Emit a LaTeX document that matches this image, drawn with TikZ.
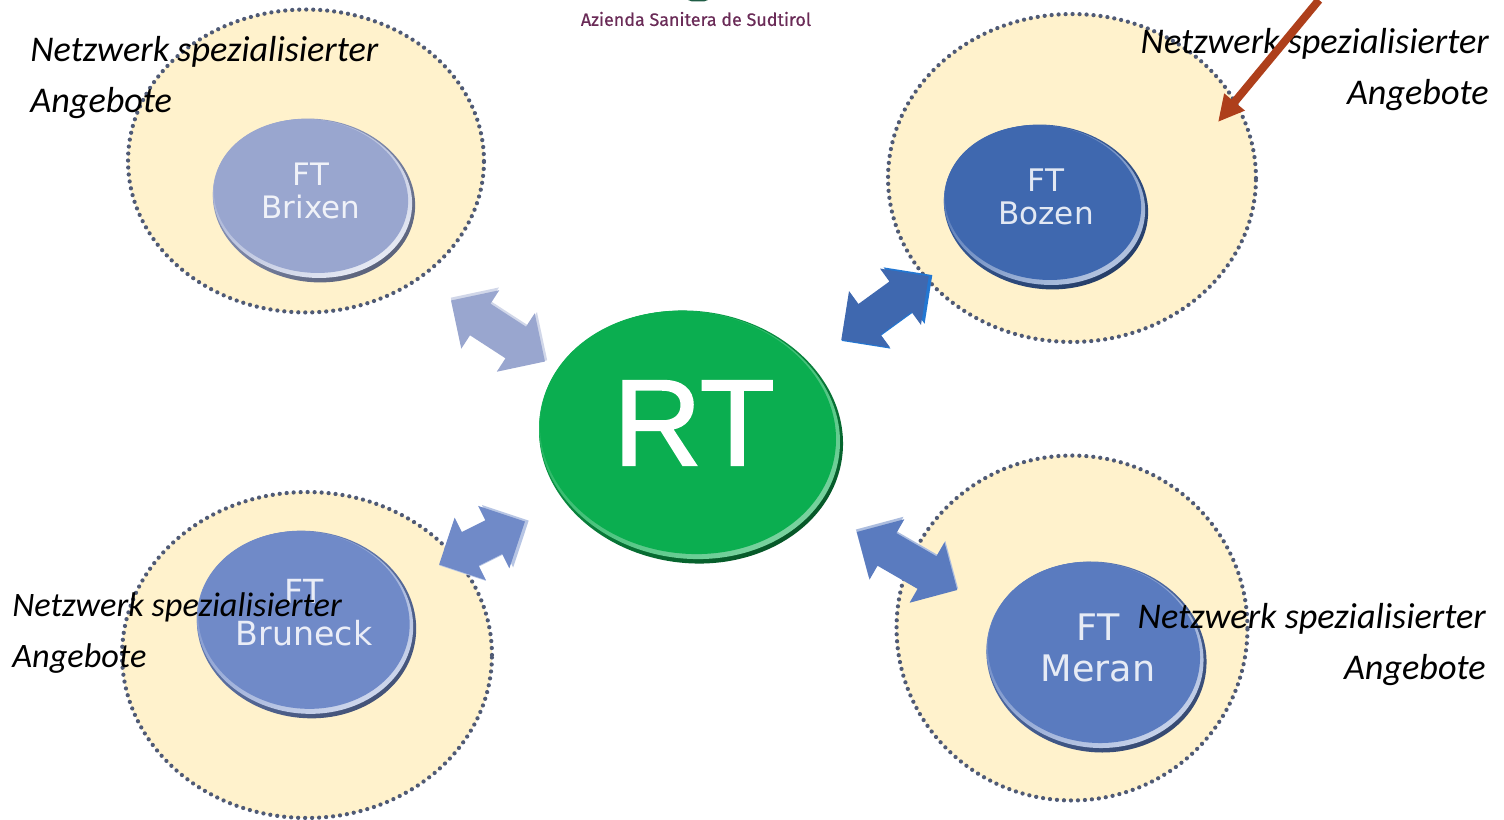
\documentclass[tikz,border=0pt]{standalone}
\usepackage{fontspec}
\setmainfont{Carlito}
\newfontfamily\btnfont{DejaVu Sans}
\newfontfamily\rtfont[FakeBold=1.4]{Liberation Sans}
\newfontfamily\logofont[FakeBold=0.4]{Fira Sans}
\usetikzlibrary{shapes.geometric,shapes.arrows,arrows.meta}
\definecolor{ringfill}{HTML}{FFF2CC}
\definecolor{ringdot}{HTML}{4F5A75}
\definecolor{redarrow}{HTML}{AE3F1B}
\definecolor{logotext}{HTML}{6A2B57}
\definecolor{logogreen}{HTML}{1F5C45}
\definecolor{brixen}{HTML}{99A6CF}
\definecolor{bozen}{HTML}{3F68AF}
\definecolor{bruneck}{HTML}{708AC8}
\definecolor{meran}{HTML}{5A7BBF}
\definecolor{rtgreen}{HTML}{0BAE50}
\tikzstyle{ring} = [ellipse, draw=ringdot, fill=ringfill, inner sep=0pt,
    line width=0.085cm, line cap=round, dash pattern=on 0pt off 0.14cm]
\tikzstyle{disc} = [ellipse, inner sep=0pt]
\tikzstyle{btnlabel} = [inner sep=0pt, align=center]
\tikzstyle{fatarrow} = [double arrow, inner xsep=0pt, inner ysep=0.37cm,
    double arrow head extend=0.32cm]
\tikzstyle{netztext} = [inner sep=0pt, font=\fontsize{20.6}{29}\selectfont\itshape, text=black]

\begin{document}
\begin{tikzpicture}[x=0.02cm, y=-0.02cm]
    \useasboundingbox (0,0) rectangle (1504,820);
    \fill[white] (0,0) rectangle (1504,820);
    % rings
    \node [ring, minimum width=7.12cm, minimum height=6.06cm] (ringBrixen) at (306,161) {};
    \node [ring, minimum width=7.36cm, minimum height=6.56cm] (ringBozen) at (1072,178) {};
    \node [ring, minimum width=7.40cm, minimum height=6.52cm] (ringBruneck) at (307,655) {};
    \node [ring, minimum width=7.02cm, minimum height=6.90cm] (ringMeran) at (1072,628) {};
    % discs
    \node [disc, top color=brixen, middle color=brixen, bottom color=brixen!60!black, shading angle=35, rotate=-8, minimum width=4.06cm, minimum height=3.26cm] (rimBrixen) at (314,200.5) {};
    \node [disc, top color=brixen, middle color=brixen, bottom color=white!75!brixen, shading angle=35, rotate=-8, minimum width=4.00cm, minimum height=3.16cm] (glowBrixen) at (312.5,198.5) {};
    \node [disc, fill=brixen, rotate=-8, minimum width=3.90cm, minimum height=3.06cm] (discBrixen) at (311,196) {};
    \node [disc, top color=bozen, middle color=bozen, bottom color=bozen!60!black, shading angle=35, rotate=-8, minimum width=4.10cm, minimum height=3.28cm] (rimBozen) at (1046,207) {};
    \node [disc, top color=bozen, middle color=bozen, bottom color=white!60!bozen, shading angle=35, rotate=-8, minimum width=4.04cm, minimum height=3.18cm] (glowBozen) at (1044.5,205) {};
    \node [disc, fill=bozen, rotate=-8, minimum width=3.94cm, minimum height=3.08cm] (discBozen) at (1043,202.5) {};
    \node [disc, top color=bruneck, middle color=bruneck, bottom color=bruneck!60!black, shading angle=35, rotate=-8, minimum width=4.40cm, minimum height=3.74cm] (rimBruneck) at (306.5,624.5) {};
    \node [disc, top color=bruneck, middle color=bruneck, bottom color=white!65!bruneck, shading angle=35, rotate=-8, minimum width=4.34cm, minimum height=3.64cm] (glowBruneck) at (305,622.5) {};
    \node [disc, fill=bruneck, rotate=-8, minimum width=4.24cm, minimum height=3.54cm] (discBruneck) at (304,620) {};
    \node [disc, top color=meran, middle color=meran, bottom color=meran!60!black, shading angle=35, rotate=-10, minimum width=4.42cm, minimum height=3.80cm] (rimMeran) at (1096.5,657) {};
    \node [disc, top color=meran, middle color=meran, bottom color=white!65!meran, shading angle=35, rotate=-10, minimum width=4.36cm, minimum height=3.70cm] (glowMeran) at (1095,655) {};
    \node [disc, fill=meran, rotate=-10, minimum width=4.26cm, minimum height=3.60cm] (discMeran) at (1094,652.5) {};
    \node [disc, top color=rtgreen, middle color=rtgreen, bottom color=rtgreen!50!black, shading angle=35, rotate=-8, minimum width=6.10cm, minimum height=5.04cm] (rimRT) at (691,437) {};
    \node [disc, top color=rtgreen, middle color=rtgreen, bottom color=white!45!rtgreen, shading angle=35, rotate=-8, minimum width=6.04cm, minimum height=4.94cm] (glowRT) at (689.5,435) {};
    \node [disc, fill=rtgreen, rotate=-8, minimum width=5.94cm, minimum height=4.84cm] (discRT) at (688,432.5) {};
    % labels
    \node [btnlabel, text=white!85!brixen, font=\btnfont\fontsize{17.6}{19}\selectfont] (labelBrixen) at (311,191) {FT\\Brixen};
    \node [btnlabel, text=white!85!bozen, font=\btnfont\fontsize{17.7}{19}\selectfont] (labelBozen) at (1046,197) {FT\\Bozen};
    \node [btnlabel, text=white!85!bruneck, font=\btnfont\fontsize{18.9}{24}\selectfont] (labelBruneck) at (304,613) {FT\\Bruneck};
    \node [btnlabel, text=white!85!meran, font=\btnfont\fontsize{20.8}{23}\selectfont] (labelMeran) at (1098,648) {FT\\Meran};
    \node [btnlabel, text=white, font=\rtfont\fontsize{70}{70}\selectfont] (labelRT) at (694,423) {RT};
    % arrows
    \node [fatarrow, fill=brixen!45, minimum height=2.30cm, rotate=-33] (shadeBrixen) at (499,329) {};
    \node [fatarrow, fill=brixen, minimum height=2.24cm, rotate=-33] (arrowBrixen) at (498,331) {};
    \node [fatarrow, fill=bozen!70!cyan!80!blue, minimum height=2.24cm, rotate=36] (shadeBozen) at (887,308) {};
    \node [fatarrow, fill=bozen, minimum height=2.16cm, rotate=36] (arrowBozen) at (885,308) {};
    \node [fatarrow, fill=bruneck!50, minimum height=2.00cm, rotate=26.6] (shadeBruneck) at (484,543) {};
    \node [fatarrow, fill=bruneck, minimum height=1.92cm, rotate=26.6] (arrowBruneck) at (482,543) {};
    \node [fatarrow, fill=meran!50, minimum height=2.36cm, rotate=-30] (shadeMeran) at (907,559) {};
    \node [fatarrow, fill=meran, minimum height=2.32cm, rotate=-30] (arrowMeran) at (907,561) {};
    % texts
    \node [netztext, align=left, anchor=north west] (textBrixen) at (30,36) {Netzwerk spezialisierter\\Angebote};
    \node [netztext, align=right, anchor=north east] (textBozen) at (1489,28) {Netzwerk spezialisierter\\Angebote};
    \node [netztext, align=left, anchor=north west, font=\fontsize{19.5}{29}\selectfont\itshape] (textBruneck) at (12,592) {Netzwerk spezialisierter\\Angebote};
    \node [netztext, align=right, anchor=north east] (textMeran) at (1486,603) {Netzwerk spezialisierter\\Angebote};
    % logo
    \node [inner sep=0pt, text=logotext, font=\logofont\fontsize{10.2}{12}\selectfont] (logoText) at (696,19) {Azienda Sanitera de Sudtirol};
    \fill [logogreen] (688,0) -- (708,0) -- (704,1.5) -- (692,1.5) -- cycle;
    % red arrow
    \coordinate (redStart) at (1319,0);
    \coordinate (redEnd) at (1218,122);
    \draw [redarrow, line width=0.16cm, -{Triangle[length=0.52cm, width=0.50cm]}] (redStart) -- (redEnd);
\end{tikzpicture}
\end{document}
